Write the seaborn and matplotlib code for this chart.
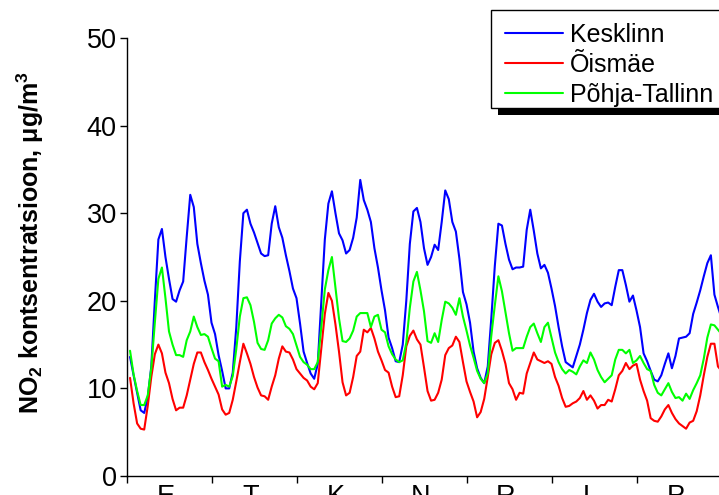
import pandas as pd
import matplotlib
matplotlib.use('Agg')
import matplotlib.pyplot as plt
import matplotlib.patches as mpatches
import seaborn as sns

# NO2 hourly means over one week, Monday (E) .. Sunday (P), in ug/m3
hours = list(range(1, 169))

kesklinn = [
    13.6, 11.5, 9.5, 7.5, 7.2, 9.0, 12.5, 20.0, 27.0, 28.2, 25.0, 22.5,
    20.2, 19.9, 21.2, 22.2, 27.3, 32.1, 30.7, 26.5, 24.3, 22.3, 20.7, 17.5,
    16.2, 13.8, 12.0, 10.0, 10.0, 11.8, 17.0, 24.5, 30.0, 30.4, 28.8, 27.8,
    26.6, 25.4, 25.1, 25.2, 28.8, 30.8, 28.4, 27.2, 25.2, 23.4, 21.4, 20.3,
    17.4, 14.2, 12.9, 11.7, 11.1, 12.8, 20.0, 27.0, 31.1, 32.5, 30.0, 27.7,
    26.9, 25.4, 25.8, 27.2, 29.5, 33.8, 31.5, 30.4, 29.0, 26.0, 23.8, 21.2,
    18.9, 15.8, 14.6, 13.1, 13.0, 15.0, 20.0, 26.5, 30.2, 30.6, 29.0, 26.0,
    24.1, 25.0, 26.4, 25.8, 29.0, 32.6, 31.6, 29.0, 27.9, 24.8, 21.0, 19.6,
    17.5, 14.2, 12.3, 11.2, 10.6, 12.5, 18.0, 24.0, 28.8, 28.6, 26.5, 24.7,
    23.6, 23.8, 23.8, 23.9, 28.1, 30.4, 28.0, 25.4, 23.7, 24.1, 23.2, 21.4,
    19.4, 17.0, 14.8, 13.0, 12.7, 12.4, 13.7, 15.0, 16.7, 18.6, 20.1, 20.8,
    19.9, 19.3, 19.7, 19.8, 19.5, 21.6, 23.5, 23.5, 21.8, 19.9, 20.6, 18.9,
    17.0, 14.0, 13.1, 12.0, 11.0, 10.8, 11.5, 12.8, 14.0, 12.3, 13.7, 15.7,
    15.8, 15.9, 16.3, 18.5, 19.8, 21.2, 22.8, 24.3, 25.2, 20.7, 19.3, 18.0,
]

oismae = [
    11.2, 8.3, 6.0, 5.4, 5.3, 8.0, 11.3, 13.9, 15.0, 14.0, 11.8, 10.6,
    8.8, 7.5, 7.8, 7.8, 9.2, 11.0, 12.8, 14.1, 14.1, 13.0, 12.1, 11.1,
    10.2, 9.3, 7.6, 7.0, 7.2, 8.7, 10.8, 13.0, 15.1, 14.0, 12.8, 11.3,
    10.1, 9.2, 9.1, 8.7, 10.2, 11.5, 13.4, 14.8, 14.2, 14.1, 13.3, 12.2,
    11.7, 11.2, 10.9, 10.2, 9.9, 10.6, 14.5, 18.5, 20.9, 20.0, 17.3, 14.2,
    10.7, 9.2, 9.5, 11.3, 13.7, 14.2, 16.7, 16.4, 16.9, 15.7, 14.2, 13.2,
    12.1, 11.8, 10.2, 9.0, 9.1, 11.5, 14.8, 16.0, 16.6, 15.6, 15.0, 12.4,
    9.7, 8.6, 8.7, 9.5, 11.0, 13.8, 14.6, 14.9, 15.9, 15.3, 13.0, 10.8,
    9.6, 8.5, 6.7, 7.3, 8.8, 11.3, 13.9, 15.2, 15.5, 14.3, 12.8, 10.6,
    9.9, 8.7, 9.5, 9.4, 11.7, 12.9, 14.1, 13.3, 13.1, 12.9, 13.1, 12.8,
    11.3, 10.3, 8.9, 7.9, 8.0, 8.3, 8.5, 8.9, 9.7, 8.7, 9.2, 8.6,
    7.7, 8.1, 8.1, 8.7, 8.5, 9.9, 11.5, 12.0, 12.9, 12.2, 12.6, 12.8,
    11.0, 9.7, 8.6, 6.6, 6.3, 6.2, 6.8, 7.6, 8.1, 7.2, 6.5, 6.0,
    5.7, 5.4, 6.1, 6.3, 7.4, 9.2, 11.5, 13.6, 15.1, 15.1, 12.5, 12.0,
]

pohja_tallinn = [
    14.3, 11.6, 9.7, 8.1, 8.1, 9.2, 12.3, 17.5, 22.5, 23.8, 20.3, 16.5,
    15.0, 13.8, 13.8, 13.6, 15.5, 16.5, 18.2, 17.0, 16.1, 16.2, 15.9, 14.6,
    13.4, 13.1, 10.2, 10.4, 10.2, 11.4, 14.5, 18.2, 20.3, 20.4, 19.5, 17.6,
    15.2, 14.5, 14.4, 15.5, 17.4, 18.0, 18.4, 18.1, 17.1, 16.8, 16.2, 14.9,
    13.6, 13.0, 12.7, 12.2, 12.2, 13.0, 17.0, 21.3, 23.5, 25.0, 21.5, 18.0,
    15.4, 15.3, 15.7, 16.6, 18.2, 18.6, 18.6, 18.6, 17.0, 18.2, 18.4, 16.7,
    16.4, 14.8, 13.9, 13.3, 13.0, 13.2, 15.2, 19.2, 22.2, 23.3, 21.2, 18.8,
    15.4, 15.2, 16.3, 15.3, 17.8, 19.9, 19.7, 19.2, 18.4, 20.3, 18.2, 16.6,
    14.9, 13.5, 12.0, 11.1, 10.6, 11.7, 16.0, 19.5, 22.8, 21.1, 18.7, 16.3,
    14.3, 14.6, 14.6, 14.6, 15.9, 17.0, 17.4, 16.3, 15.3, 17.0, 17.5, 15.8,
    14.1, 13.0, 12.2, 11.7, 12.1, 11.9, 11.6, 12.5, 13.2, 12.9, 14.1, 13.3,
    12.1, 11.3, 10.7, 11.1, 11.5, 13.3, 14.4, 14.4, 14.0, 14.4, 12.9, 13.2,
    13.7, 12.9, 12.2, 12.0, 10.4, 9.5, 9.2, 9.9, 10.6, 9.6, 8.9, 9.0,
    8.6, 9.4, 8.8, 9.8, 10.6, 11.5, 13.4, 15.8, 17.3, 17.2, 16.7, 16.2,
]

days = ['E', 'T', 'K', 'N', 'R', 'L', 'P']
stations = ['Kesklinn', 'Õismäe', 'Põhja-Tallinn']
colors = ['#0000FF', '#FF0000', '#00FF00']

df = pd.DataFrame({
    'tund': hours,
    'Kesklinn': kesklinn,
    'Õismäe': oismae,
    'Põhja-Tallinn': pohja_tallinn,
})
df_long = df.melt(id_vars='tund', var_name='jaam', value_name='no2')

sns.set_style('ticks')
plt.rcParams['font.family'] = ['Liberation Sans', 'DejaVu Sans']
plt.rcParams['mathtext.fontset'] = 'custom'
plt.rcParams['mathtext.rm'] = 'Liberation Sans:bold'
plt.rcParams['mathtext.it'] = 'Liberation Sans:bold'
plt.rcParams['mathtext.bf'] = 'Liberation Sans:bold'
for key in ['text.color', 'axes.labelcolor', 'xtick.color', 'ytick.color']:
    plt.rcParams[key] = 'black'

W, H = 719, 495
fig = plt.figure(figsize=(W / 100, H / 100), dpi=100)
# axes run a little past the right edge, like the cropped original
ax = fig.add_axes([126.5 / W, 19 / H, 595 / W, 438 / H])

sns.lineplot(data=df_long, x='tund', y='no2', hue='jaam', hue_order=stations,
             palette=colors, linewidth=1.5, errorbar=None, ax=ax)

ax.set_xlim(0, 168)
ax.set_ylim(0, 50)
ax.set_yticks(range(0, 51, 10))
ax.set_xticks(range(0, 169, 24))
ax.set_xticklabels([])
ax.set_xticks([24 * d + 11 for d in range(7)], minor=True)
ax.set_xticklabels(days, minor=True)
ax.set_xlabel('')

ax.tick_params(axis='both', which='major', labelsize=19.5, direction='out',
               length=5, width=1, color='black', pad=2)
ax.tick_params(axis='x', which='minor', labelsize=19.5, length=0, pad=6)

sns.despine(ax=ax)
for side in ['left', 'bottom']:
    ax.spines[side].set_linewidth(1)
    ax.spines[side].set_color('black')

ax.set_ylabel('NO$_2$ kontsentratsioon, μg/m$^3$', fontsize=18,
              fontweight='bold')
ax.yaxis.set_label_coords(-0.135, 0.532)

# legend box and its hard black shadow drawn by hand
frame = mpatches.Rectangle((491 / W, 1 - 108 / H), 0.5, 98 / H,
                           transform=fig.transFigure, facecolor='white',
                           edgecolor='black', linewidth=1, zorder=4.5,
                           clip_on=False)
shadow = mpatches.Rectangle((498 / W, 1 - 115 / H), 0.5, 98 / H,
                            transform=fig.transFigure, facecolor='black',
                            edgecolor='none', zorder=4, clip_on=False)
ax.add_artist(shadow)
ax.add_artist(frame)

handles, labels = ax.get_legend_handles_labels()
leg = ax.legend(handles, labels, loc='upper left',
                bbox_to_anchor=(505 / W, 1 - 23 / H),
                bbox_transform=fig.transFigure, frameon=False,
                borderaxespad=0, borderpad=0, handlelength=2.3,
                handletextpad=0.3, labelspacing=0.24, fontsize=18)
leg.set_zorder(5)

plt.savefig('out.png', dpi=100)
